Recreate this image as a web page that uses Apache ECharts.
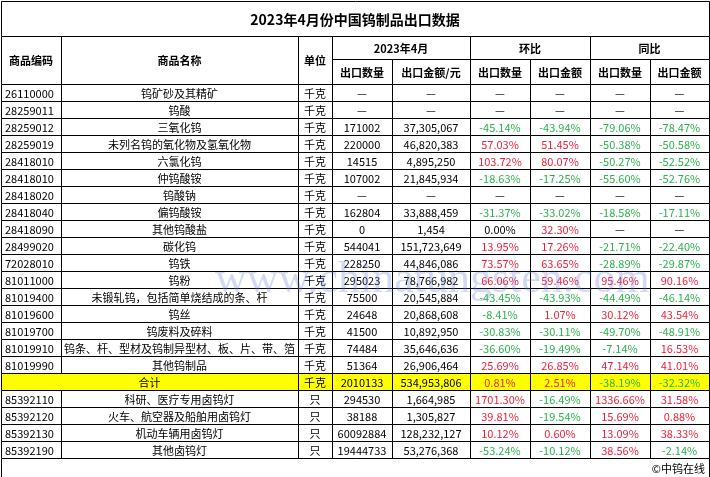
<!DOCTYPE html>
<html>
<head>
<meta charset="utf-8">
<script src="https://cdn.jsdelivr.net/npm/echarts@6/dist/echarts.min.js"></script>
<style>html,body{margin:0;padding:0;background:#fff}#chart{width:710px;height:477px}</style>
</head>
<body>
<div id="chart"></div>
<script>
const title = "2023年4月份中国钨制品出口数据";
const codes = ["26110000","28259011","28259012","28259019","28418010","28418010","28418020","28418040","28418090","28499020","72028010","81011000","81019400","81019600","81019700","81019910","81019990","合计","85392110","85392120","85392130","85392190"];
const names = ["钨矿砂及其精矿","钨酸","三氧化钨","未列名钨的氧化物及氢氧化物","六氯化钨","仲钨酸铵","钨酸钠","偏钨酸铵","其他钨酸盐","碳化钨","钨铁","钨粉","未锻轧钨，包括简单烧结成的条、杆","钨丝","钨废料及碎料","钨条、杆、型材及钨制异型材、板、片、带、箔","其他钨制品","","科研、医疗专用卤钨灯","火车、航空器及船舶用卤钨灯","机动车辆用卤钨灯","其他卤钨灯"];
const units = ["千克","千克","千克","千克","千克","千克","千克","千克","千克","千克","千克","千克","千克","千克","千克","千克","千克","千克","只","只","只","只"];
const qty = ["—","—","171002","220000","14515","107002","—","162804","0","544041","228250","295023","75500","24648","41500","74484","51364","2010133","294530","38188","60092884","19444733"];
const amount = ["—","—","37,305,067","46,820,383","4,895,250","21,845,934","—","33,888,459","1,454","151,723,649","44,846,086","78,766,982","20,545,884","20,868,608","10,892,950","35,646,636","26,906,464","534,953,806","1,664,985","1,305,827","128,232,127","53,276,368"];
const momQty = ["—","—","-45.14%","57.03%","103.72%","-18.63%","—","-31.37%","0.00%","13.95%","73.57%","66.06%","-43.45%","-8.41%","-30.83%","-36.60%","25.69%","0.81%","1701.30%","39.81%","10.12%","-53.24%"];
const momAmt = ["—","—","-43.94%","51.45%","80.07%","-17.25%","—","-33.02%","32.30%","17.26%","63.65%","59.46%","-43.93%","1.07%","-30.11%","-19.49%","26.85%","2.51%","-16.49%","-19.54%","0.60%","-10.12%"];
const yoyQty = ["—","—","-79.06%","-50.38%","-50.27%","-55.60%","—","-18.58%","—","-21.71%","-28.89%","95.46%","-44.49%","30.12%","-49.70%","-7.14%","47.14%","-38.19%","1336.66%","15.69%","13.09%","38.56%"];
const yoyAmt = ["—","—","-78.47%","-50.58%","-52.52%","-52.76%","—","-17.11%","—","-22.40%","-29.87%","90.16%","-46.14%","43.54%","-48.91%","16.53%","41.01%","-32.32%","31.58%","0.88%","38.33%","-2.14%"];

const colX = [1, 61, 298, 332, 392, 470, 530, 590, 650, 709];
const titleH = 36, head1 = 59, head2 = 84, rowH = 17, footH = 19;
const RED = "#f0213a", GREEN = "#2bb24c";

function pctColor(s) {
  if (!s.endsWith("%") || s === "0.00%") return "#000";
  return s.startsWith("-") ? GREEN : RED;
}

const cells = [];
function cell(x0, y0, x1, y1, text, opts) {
  cells.push({ value: [x0, y0, x1, y1], text, ...(opts || {}) });
}
const W = colX[9];
cell(colX[0], 1, W, titleH, title, { bold: true, size: 14 });
cell(colX[0], titleH, colX[1], head2, "商品编码", { bold: true });
cell(colX[1], titleH, colX[2], head2, "商品名称", { bold: true });
cell(colX[2], titleH, colX[3], head2, "单位", { bold: true });
cell(colX[3], titleH, colX[5], head1, "2023年4月", { bold: true });
cell(colX[5], titleH, colX[7], head1, "环比", { bold: true });
cell(colX[7], titleH, colX[9], head1, "同比", { bold: true });
["出口数量","出口金额/元","出口数量","出口金额","出口数量","出口金额"].forEach((t, i) => {
  cell(colX[3 + i], head1, colX[4 + i], head2, t, { bold: true });
});
codes.forEach((c, r) => {
  const y0 = head2 + r * rowH, y1 = y0 + rowH;
  const total = c === "合计";
  const bg = total ? "#ffff00" : "#fff";
  if (total) {
    cell(colX[0], y0, colX[2], y1, c, { bg });
  } else {
    cell(colX[0], y0, colX[1], y1, c, { bg, align: "left" });
    cell(colX[1], y0, colX[2], y1, names[r], { bg });
  }
  cell(colX[2], y0, colX[3], y1, units[r], { bg });
  cell(colX[3], y0, colX[4], y1, qty[r], { bg });
  cell(colX[4], y0, colX[5], y1, amount[r], { bg });
  [momQty, momAmt, yoyQty, yoyAmt].forEach((arr, k) => {
    cell(colX[5 + k], y0, colX[6 + k], y1, arr[r], { bg, color: pctColor(arr[r]) });
  });
});
const footY = head2 + codes.length * rowH;
cell(colX[0], footY, W, footY + footH, "©中钨在线", { align: "right" });

const chart = echarts.init(document.getElementById("chart"));
chart.setOption({
  animation: false,
  grid: { left: 0, right: 0, top: 0, bottom: 0 },
  xAxis: { type: "value", min: 0, max: 710, show: false },
  yAxis: { type: "value", min: 0, max: 477, inverse: true, show: false },
  graphic: [{
    type: "text", left: 215, top: 258, z: 100,
    style: { text: "www.chinatungsten.com", fontSize: 44, fontFamily: "Liberation Serif", fill: "rgba(110,130,220,0.3)" }
  }],
  series: [{
    type: "custom",
    coordinateSystem: "cartesian2d",
    data: cells,
    renderItem: (params, api) => {
      const d = cells[params.dataIndex];
      const p0 = api.coord([api.value(0), api.value(1)]);
      const p1 = api.coord([api.value(2), api.value(3)]);
      const align = d.align || "center";
      const tx = align === "left" ? p0[0] + 4 : align === "right" ? p1[0] - 4 : (p0[0] + p1[0]) / 2;
      return {
        type: "group",
        children: [
          { type: "rect", shape: { x: p0[0] + 0.5, y: p0[1] + 0.5, width: p1[0] - p0[0], height: p1[1] - p0[1] },
            style: { fill: d.bg || "#fff", stroke: "#000", lineWidth: 1 } },
          { type: "text", style: {
              x: tx, y: (p0[1] + p1[1]) / 2 + 1, text: d.text, align, verticalAlign: "middle",
              fill: d.color || "#000", fontSize: d.size || 11,
              fontWeight: d.bold ? "bold" : "normal",
              fontFamily: "'Noto Sans CJK SC', 'DejaVu Sans', sans-serif" } }
        ]
      };
    }
  }]
});
</script>
</body>
</html>
